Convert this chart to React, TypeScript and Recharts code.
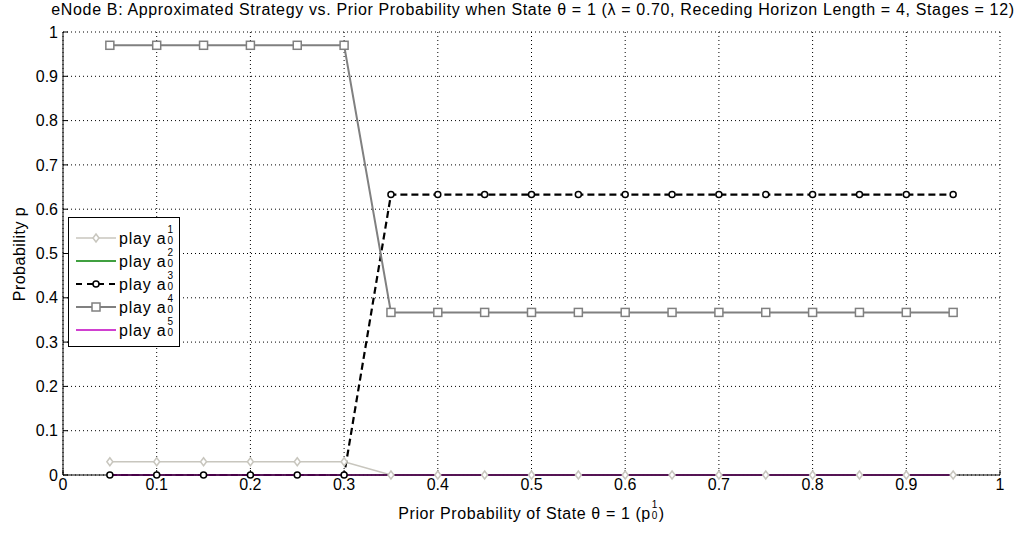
import { LineChart, Line, XAxis, YAxis, CartesianGrid } from 'recharts'

const xs = [0.05, 0.1, 0.15, 0.2, 0.25, 0.3, 0.35, 0.4, 0.45, 0.5, 0.55, 0.6, 0.65, 0.7, 0.75, 0.8, 0.85, 0.9, 0.95]
const a1 = [0.03, 0.03, 0.03, 0.03, 0.03, 0.03, 0, 0, 0, 0, 0, 0, 0, 0, 0, 0, 0, 0, 0]
const a2 = [0, 0, 0, 0, 0, 0, 0, 0, 0, 0, 0, 0, 0, 0, 0, 0, 0, 0, 0]
const a3 = [0, 0, 0, 0, 0, 0, 0.633, 0.633, 0.633, 0.633, 0.633, 0.633, 0.633, 0.633, 0.633, 0.633, 0.633, 0.633, 0.633]
const a4 = [0.97, 0.97, 0.97, 0.97, 0.97, 0.97, 0.367, 0.367, 0.367, 0.367, 0.367, 0.367, 0.367, 0.367, 0.367, 0.367, 0.367, 0.367, 0.367]
const a5 = [0, 0, 0, 0, 0, 0, 0, 0, 0, 0, 0, 0, 0, 0, 0, 0, 0, 0, 0]
const ticks = [0, 0.1, 0.2, 0.3, 0.4, 0.5, 0.6, 0.7, 0.8, 0.9, 1]

const data = xs.map((x, i) => ({ x, a1: a1[i], a2: a2[i], a3: a3[i], a4: a4[i], a5: a5[i] }))

const FONT = '"Liberation Sans", Arial, Helvetica, sans-serif'
const C1 = '#c8c6be'
const C2 = '#008000'
const C3 = '#000000'
const C4 = '#808080'
const C5 = '#c000c0'

const fmt = (v: number) => (v === 0 || v === 1 ? String(v) : v.toFixed(1))
const tickStyle = { fill: '#000', fontSize: 16, fontFamily: FONT }

const diamond = (p: any) => (
  <path key={`d${p.index}`} d={`M${p.cx},${p.cy - 4}L${p.cx + 3},${p.cy}L${p.cx},${p.cy + 4}L${p.cx - 3},${p.cy}Z`}
    fill="#fff" stroke={C1} strokeWidth={1.5} />
)
const circle = (p: any) => (
  <circle key={`c${p.index}`} cx={p.cx} cy={p.cy} r={3} fill="#fff" stroke={C3} strokeWidth={1.5} />
)
const square = (p: any) => (
  <rect key={`s${p.index}`} x={p.cx - 4} y={p.cy - 4} width={8} height={8} fill="#fff" stroke={C4} strokeWidth={1.5} />
)

// stacked superscript n over subscript 0
function Idx({ n }: { n: number }) {
  return (
    <span style={{ position: 'relative', display: 'inline-block', width: 7, height: '1em', marginLeft: 1, letterSpacing: 0 }}>
      <span style={{ position: 'absolute', left: 0, top: -3, fontSize: 10, lineHeight: '10px' }}>{n}</span>
      <span style={{ position: 'absolute', left: 0, top: 8, fontSize: 10, lineHeight: '10px' }}>0</span>
    </span>
  )
}

const legendItems = [
  { n: 1, color: C1, width: 1.5, dash: undefined, marker: 'diamond' },
  { n: 2, color: C2, width: 1.3, dash: undefined, marker: '' },
  { n: 3, color: C3, width: 2, dash: '6 5', marker: 'circle' },
  { n: 4, color: C4, width: 2, dash: undefined, marker: 'square' },
  { n: 5, color: C5, width: 1.5, dash: undefined, marker: '' },
]

function Sample({ color, width, dash, marker }: any) {
  return (
    <svg width={40} height={12} style={{ marginRight: 3 }}>
      <line x1={0} y1={6} x2={40} y2={6} stroke={color} strokeWidth={width} strokeDasharray={dash} />
      {marker === 'diamond' && <path d="M20,2L23,6L20,10L17,6Z" fill="#fff" stroke={color} strokeWidth={1.5} />}
      {marker === 'circle' && <circle cx={20} cy={6} r={3} fill="#fff" stroke={color} strokeWidth={1.5} />}
      {marker === 'square' && <rect x={16} y={2} width={8} height={8} fill="#fff" stroke={color} strokeWidth={1.5} />}
    </svg>
  )
}

export default function App() {
  return (
    <div style={{ position: 'absolute', left: 0, top: 0, width: 1033, height: 536, background: '#fff', fontFamily: FONT }}>
      <div style={{ position: 'absolute', left: 0, top: 1, width: 1066, textAlign: 'center', fontSize: 16, letterSpacing: 0.65, whiteSpace: 'nowrap' }}>
        eNode B: Approximated Strategy vs. Prior Probability when State θ = 1 (λ = 0.70, Receding Horizon Length = 4, Stages = 12)
      </div>
      <LineChart width={1033} height={536} data={data} margin={{ top: 32, right: 33, bottom: 31, left: 8 }}>
        <CartesianGrid stroke="#000" strokeDasharray="1 3" />
        <XAxis dataKey="x" type="number" domain={[0, 1]} ticks={ticks} tickFormatter={fmt} height={30}
          tick={tickStyle} tickSize={-5} tickMargin={9} stroke="#000" tickLine={{ stroke: '#000' }} />
        <XAxis xAxisId="top" orientation="top" dataKey="x" type="number" domain={[0, 1]} ticks={ticks} height={0}
          tickFormatter={() => ''} tickSize={-5} stroke="#000" tickLine={{ stroke: '#000' }} />
        <YAxis type="number" domain={[0, 1]} ticks={ticks} tickFormatter={fmt} width={55}
          tick={tickStyle} tickSize={-5} tickMargin={10} stroke="#000" tickLine={{ stroke: '#000' }} />
        <YAxis yAxisId="right" orientation="right" type="number" domain={[0, 1]} ticks={ticks} width={0}
          tickFormatter={() => ''} tickSize={-5} stroke="#000" tickLine={{ stroke: '#000' }} />
        <Line dataKey="a1" stroke={C1} strokeWidth={1.5} dot={diamond} isAnimationActive={false} />
        <Line dataKey="a2" stroke={C2} strokeWidth={1} dot={false} isAnimationActive={false} />
        <Line dataKey="a3" stroke={C3} strokeWidth={2.2} strokeDasharray="7 4" dot={circle} isAnimationActive={false} />
        <Line dataKey="a4" stroke={C4} strokeWidth={2} dot={square} isAnimationActive={false} />
        <Line dataKey="a5" stroke={C5} strokeWidth={1.5} dot={false} isAnimationActive={false} />
      </LineChart>
      <div style={{ position: 'absolute', left: 20, top: 254, width: 0, height: 0 }}>
        <div style={{ position: 'absolute', left: 0, top: 0, transform: 'translate(-50%, -50%) rotate(-90deg)', whiteSpace: 'nowrap', fontSize: 16, letterSpacing: 0.5 }}>
          Probability p
        </div>
      </div>
      <div style={{ position: 'absolute', left: 63, top: 503, width: 937, textAlign: 'center', fontSize: 16, letterSpacing: 0.6, whiteSpace: 'nowrap' }}>
        Prior Probability of State θ = 1 (p<Idx n={1} />)
      </div>
      <div style={{ position: 'absolute', left: 68, top: 217, width: 112, height: 130, border: '1px solid #000', background: '#fff', boxSizing: 'border-box', padding: '8px 0 0 7px' }}>
        {legendItems.map((it) => (
          <div key={it.n} style={{ display: 'flex', alignItems: 'center', height: 23, fontSize: 16, letterSpacing: 0.8 }}>
            <Sample {...it} />
            <span>play a<Idx n={it.n} /></span>
          </div>
        ))}
      </div>
    </div>
  )
}
